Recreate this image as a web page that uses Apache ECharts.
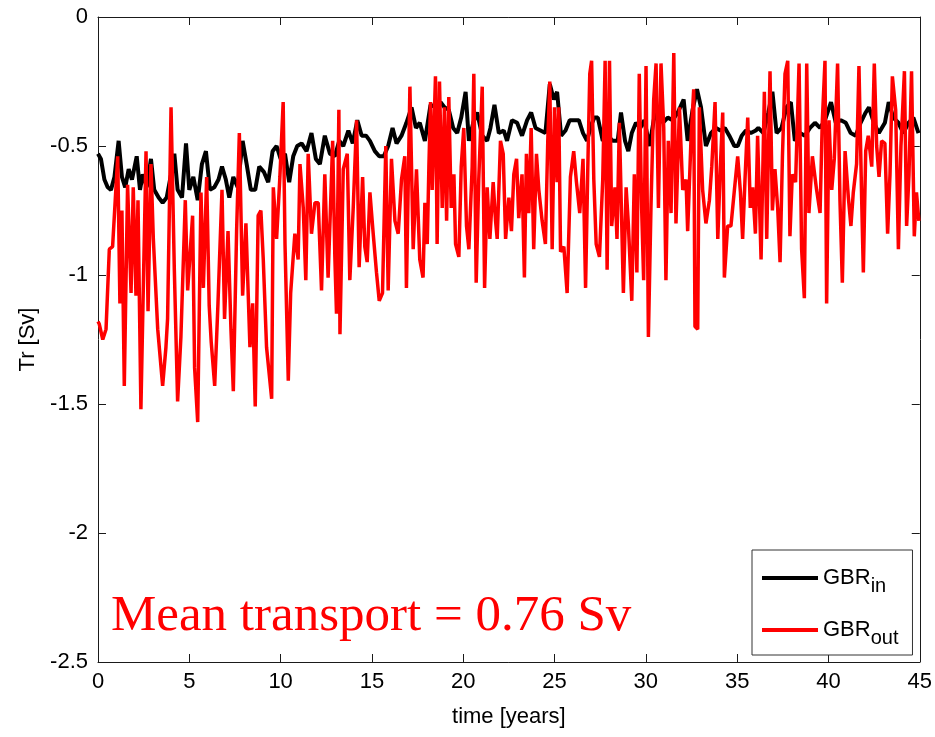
<!DOCTYPE html>
<html>
<head>
<meta charset="utf-8">
<script src="https://cdn.jsdelivr.net/npm/echarts@6/dist/echarts.min.js"></script>
<style>html,body{margin:0;padding:0;background:#fff}#c{width:935px;height:737px}</style>
</head>
<body>
<div id="c"></div>
<script>
// ---- data ----
var xTicks = [0, 5, 10, 15, 20, 25, 30, 35, 40, 45];
var yTicks = [-2.5, -2, -1.5, -1, -0.5, 0];
var seriesNames = ['GBR_in', 'GBR_out'];
var annotation = 'Mean transport = 0.76 Sv';

var gbrInTime = [0.0,0.16,0.35,0.53,0.71,0.90,1.13,1.31,1.49,1.68,1.86,2.12,2.30,2.45,2.67,2.90,3.08,3.32,3.54,3.76,4.00,4.18,4.36,4.60,4.82,5.00,5.22,5.46,5.69,5.91,6.13,6.37,6.60,6.79,7.00,7.19,7.41,7.65,7.92,8.14,8.37,8.61,8.83,9.08,9.32,9.56,9.78,10.00,10.24,10.47,10.69,10.91,11.15,11.42,11.69,11.93,12.15,12.42,12.70,12.97,13.21,13.43,13.71,13.95,14.20,14.44,14.68,14.89,15.16,15.40,15.65,15.89,16.13,16.35,16.62,16.89,17.17,17.41,17.62,17.90,18.21,18.48,18.76,18.97,19.21,19.45,19.67,19.89,20.13,20.31,20.55,20.76,21.04,21.31,21.49,21.71,21.95,22.22,22.40,22.67,22.95,23.22,23.50,23.72,23.96,24.23,24.50,24.74,24.96,25.14,25.36,25.60,25.83,26.09,26.33,26.56,26.78,27.00,27.18,27.37,27.64,27.91,28.19,28.46,28.64,28.86,29.04,29.23,29.46,29.70,29.92,30.20,30.43,30.69,30.93,31.20,31.47,31.75,32.07,32.29,32.56,32.80,33.02,33.29,33.57,33.84,34.08,34.33,34.57,34.85,35.03,35.25,35.48,35.75,36.02,36.16,36.44,36.71,36.93,37.16,37.43,37.70,37.94,38.16,38.44,38.71,38.99,39.26,39.54,39.81,40.14,40.40,40.68,40.95,41.22,41.49,41.76,42.04,42.22,42.49,42.76,43.09,43.30,43.55,43.83,44.10,44.38,44.65,44.93];
var gbrInValue = [-0.53,-0.55,-0.63,-0.66,-0.67,-0.62,-0.48,-0.62,-0.66,-0.59,-0.63,-0.54,-0.67,-0.61,-0.66,-0.55,-0.67,-0.70,-0.72,-0.70,-0.61,-0.53,-0.67,-0.70,-0.49,-0.67,-0.62,-0.71,-0.57,-0.52,-0.67,-0.66,-0.63,-0.58,-0.63,-0.70,-0.62,-0.66,-0.48,-0.57,-0.67,-0.67,-0.58,-0.60,-0.64,-0.52,-0.50,-0.55,-0.53,-0.64,-0.54,-0.50,-0.49,-0.52,-0.45,-0.55,-0.57,-0.46,-0.53,-0.54,-0.48,-0.50,-0.44,-0.49,-0.40,-0.46,-0.46,-0.48,-0.52,-0.54,-0.54,-0.50,-0.43,-0.49,-0.46,-0.41,-0.35,-0.43,-0.41,-0.48,-0.34,-0.35,-0.33,-0.35,-0.36,-0.43,-0.45,-0.39,-0.29,-0.48,-0.41,-0.37,-0.46,-0.48,-0.43,-0.34,-0.45,-0.44,-0.48,-0.40,-0.41,-0.46,-0.40,-0.37,-0.43,-0.44,-0.45,-0.26,-0.32,-0.29,-0.46,-0.44,-0.40,-0.40,-0.40,-0.45,-0.48,-0.42,-0.39,-0.39,-0.48,-0.46,-0.48,-0.48,-0.37,-0.48,-0.52,-0.45,-0.41,-0.43,-0.40,-0.50,-0.40,-0.35,-0.41,-0.39,-0.40,-0.37,-0.32,-0.48,-0.36,-0.28,-0.35,-0.50,-0.45,-0.43,-0.44,-0.43,-0.46,-0.50,-0.50,-0.46,-0.44,-0.45,-0.44,-0.43,-0.45,-0.37,-0.29,-0.45,-0.43,-0.35,-0.33,-0.48,-0.45,-0.46,-0.43,-0.41,-0.43,-0.40,-0.33,-0.41,-0.40,-0.41,-0.45,-0.46,-0.41,-0.37,-0.35,-0.41,-0.45,-0.41,-0.33,-0.39,-0.41,-0.45,-0.41,-0.39,-0.45];

var gbrOutTime = [0.0,0.07,0.26,0.44,0.62,0.80,1.08,1.20,1.31,1.44,1.62,1.81,1.93,2.08,2.19,2.35,2.63,2.74,2.90,3.03,3.27,3.54,3.72,3.81,4.00,4.18,4.36,4.54,4.78,4.91,5.18,5.29,5.46,5.64,5.77,5.95,6.09,6.20,6.39,6.57,6.79,6.93,7.12,7.28,7.41,7.59,7.74,7.92,8.10,8.32,8.47,8.61,8.77,8.92,9.05,9.23,9.51,9.60,9.78,9.96,10.14,10.24,10.42,10.55,10.78,10.96,11.06,11.24,11.38,11.51,11.69,11.88,12.06,12.24,12.42,12.60,12.74,12.85,12.97,13.06,13.19,13.25,13.43,13.65,13.79,13.97,14.16,14.30,14.49,14.61,14.74,14.89,15.07,15.25,15.40,15.58,15.76,15.89,16.07,16.26,16.44,16.62,16.80,16.89,17.08,17.26,17.44,17.62,17.80,17.90,18.03,18.12,18.21,18.30,18.48,18.57,18.70,18.85,18.97,19.09,19.21,19.34,19.49,19.58,19.76,19.89,20.03,20.18,20.31,20.49,20.58,20.71,20.85,21.04,21.17,21.31,21.46,21.64,21.77,21.86,22.04,22.19,22.32,22.50,22.64,22.77,22.92,23.04,23.22,23.35,23.46,23.59,23.72,23.86,24.01,24.14,24.32,24.50,24.63,24.74,24.87,25.00,25.14,25.23,25.33,25.51,25.69,25.87,26.05,26.20,26.38,26.56,26.70,26.82,26.93,27.03,27.15,27.28,27.46,27.64,27.77,27.88,28.01,28.13,28.31,28.42,28.55,28.64,28.77,28.92,29.04,29.23,29.37,29.51,29.64,29.77,29.88,30.01,30.14,30.28,30.43,30.56,30.69,30.83,30.98,31.10,31.23,31.38,31.53,31.65,31.84,32.02,32.20,32.29,32.47,32.62,32.69,32.84,32.93,33.11,33.29,33.48,33.61,33.79,33.94,34.08,34.21,34.30,34.48,34.66,34.85,35.03,35.18,35.30,35.43,35.58,35.72,35.85,36.00,36.12,36.31,36.49,36.62,36.80,36.93,37.07,37.22,37.35,37.48,37.62,37.77,37.89,38.02,38.20,38.39,38.53,38.68,38.81,38.93,39.12,39.35,39.54,39.66,39.81,39.90,40.03,40.18,40.32,40.50,40.63,40.76,40.91,41.09,41.23,41.36,41.54,41.67,41.82,41.91,42.04,42.18,42.37,42.51,42.64,42.77,42.91,43.09,43.24,43.37,43.50,43.68,43.83,43.97,44.16,44.28,44.41,44.55,44.70,44.82,44.95];
var gbrOutValue = [-1.18,-1.19,-1.25,-1.21,-0.90,-0.89,-0.54,-1.11,-0.75,-1.43,-0.65,-1.07,-0.66,-1.08,-0.71,-1.52,-0.52,-1.14,-0.57,-0.86,-1.21,-1.43,-1.28,-1.17,-0.35,-0.98,-1.49,-1.24,-0.71,-1.06,-0.77,-1.36,-1.57,-0.68,-1.05,-0.62,-1.12,-1.26,-1.43,-1.11,-0.67,-1.17,-0.83,-1.21,-1.45,-0.83,-0.45,-1.08,-0.80,-1.28,-1.11,-1.51,-0.77,-0.75,-0.94,-1.28,-1.48,-0.66,-0.86,-0.62,-0.33,-0.88,-1.41,-1.07,-0.84,-0.94,-0.57,-0.74,-1.02,-0.53,-0.84,-0.72,-0.72,-1.06,-0.61,-1.01,-0.72,-0.48,-0.93,-1.15,-0.36,-1.23,-0.59,-0.53,-1.02,-0.75,-0.40,-0.97,-0.62,-0.89,-0.95,-0.68,-0.84,-0.99,-1.10,-1.07,-0.50,-1.06,-0.55,-0.79,-0.84,-0.63,-0.54,-1.05,-0.27,-0.90,-0.59,-0.94,-1.01,-0.72,-0.88,-0.58,-0.33,-0.67,-0.23,-0.88,-0.25,-0.74,-0.35,-0.79,-0.31,-0.74,-0.61,-0.88,-0.93,-0.58,-0.43,-0.81,-0.90,-0.58,-0.22,-1.03,-0.63,-0.27,-1.05,-0.66,-0.86,-0.64,-0.79,-0.86,-0.48,-0.53,-0.86,-0.70,-0.83,-0.61,-0.55,-0.78,-0.61,-1.01,-0.53,-0.76,-0.43,-0.90,-0.53,-0.67,-0.79,-0.88,-0.48,-0.25,-0.90,-0.35,-0.64,-0.35,-0.91,-0.89,-1.07,-0.62,-0.52,-0.64,-0.76,-0.55,-1.05,-0.59,-0.22,-0.17,-0.63,-0.88,-0.93,-0.63,-0.17,-0.98,-0.17,-0.81,-0.66,-0.86,-0.41,-0.68,-1.07,-0.66,-0.80,-1.10,-0.61,-0.99,-0.22,-0.74,-1.02,-0.19,-1.24,-0.74,-0.32,-0.18,-0.74,-0.18,-0.43,-1.02,-0.48,-0.76,-0.14,-0.80,-0.35,-0.67,-0.63,-0.83,-0.48,-0.28,-1.20,-1.21,-0.35,-0.67,-0.80,-0.71,-0.58,-0.33,-0.86,-0.58,-0.37,-1.01,-0.81,-0.81,-0.67,-0.54,-0.68,-0.86,-0.63,-0.39,-0.74,-0.66,-0.84,-0.46,-0.94,-0.29,-0.86,-0.21,-0.75,-0.59,-0.74,-0.95,-0.54,-0.22,-0.17,-0.85,-0.61,-0.64,-0.18,-0.90,-1.09,-0.18,-0.76,-0.54,-0.67,-0.76,-0.41,-0.17,-1.11,-0.40,-0.67,-0.55,-0.18,-0.71,-1.03,-0.52,-0.70,-0.81,-0.68,-0.57,-0.19,-0.71,-0.99,-0.52,-0.46,-0.58,-0.18,-0.50,-0.62,-0.48,-0.49,-0.84,-0.61,-0.23,-0.36,-0.90,-0.50,-0.21,-0.81,-0.61,-0.21,-0.85,-0.68,-0.79];

function zip(t, v) { return t.map(function (x, i) { return [x, v[i]]; }); }

var AX = '#1a1a1a';
var FONT = '"Liberation Sans", Arial, Helvetica, sans-serif';

function axisCommon(extra) {
  var base = {
    type: 'value',
    axisLine: { show: true, onZero: false, lineStyle: { color: AX, width: 1 } },
    axisTick: { show: true, inside: true, length: 8, lineStyle: { color: AX } },
    splitLine: { show: false }
  };
  for (var k in extra) base[k] = extra[k];
  return base;
}

var chart = echarts.init(document.getElementById('c'), null, { renderer: 'canvas' });
var option = {
  animation: false,
  backgroundColor: '#fff',
  grid: { left: 98, right: 15, top: 17, bottom: 75, containLabel: false },
  xAxis: [
    axisCommon({
      position: 'bottom', min: xTicks[0], max: xTicks[xTicks.length - 1], interval: 5,
      name: 'time [years]', nameLocation: 'middle', nameGap: 44,
      nameTextStyle: { fontSize: 22, color: '#000', fontFamily: FONT },
      axisLabel: { fontSize: 22, color: '#000', fontFamily: FONT, margin: 9 }
    }),
    axisCommon({
      position: 'top', min: xTicks[0], max: xTicks[xTicks.length - 1], interval: 5,
      axisLabel: { show: false }
    })
  ],
  yAxis: [
    axisCommon({
      position: 'left', min: yTicks[0], max: yTicks[yTicks.length - 1], interval: 0.5,
      name: 'Tr [Sv]', nameLocation: 'middle', nameGap: 57, nameRotate: 90,
      nameTextStyle: { fontSize: 22, color: '#000', fontFamily: FONT },
      axisLabel: { fontSize: 22, color: '#000', fontFamily: FONT, margin: 10 }
    }),
    axisCommon({
      position: 'right', min: yTicks[0], max: yTicks[yTicks.length - 1], interval: 0.5,
      axisLabel: { show: false }
    })
  ],
  legend: {
    orient: 'vertical', left: 752, top: 550,
    padding: [10, 14, 7, 10], itemGap: 16,
    backgroundColor: '#fff', borderColor: '#333', borderWidth: 1,
    itemWidth: 56, itemHeight: 4, icon: 'rect',
    data: seriesNames.map(function (n) { return { name: n, icon: 'rect' }; }),
    formatter: function (name) {
      return name === 'GBR_in' ? '{m|GBR}{s|in}' : '{m|GBR}{s|out}';
    },
    textStyle: {
      color: '#000', fontFamily: FONT,
      rich: {
        m: { fontSize: 22, fontFamily: FONT, color: '#000', lineHeight: 26, verticalAlign: 'middle' },
        s: { fontSize: 20, fontFamily: FONT, color: '#000', lineHeight: 26, padding: [16, 0, 0, 0] }
      }
    }
  },
  graphic: [{
    type: 'text', left: 111, top: 591, silent: true,
    style: { text: annotation, fill: '#ff0000', font: 'normal 51px "Liberation Serif", "Times New Roman", serif' }
  }],
  series: [{
    name: seriesNames[0], type: 'line', data: zip(gbrInTime, gbrInValue),
    showSymbol: false, symbol: 'none', color: '#000',
    lineStyle: { color: '#000', width: 4 }, z: 2
  }, {
    name: seriesNames[1], type: 'line', data: zip(gbrOutTime, gbrOutValue),
    showSymbol: false, symbol: 'none', color: '#ff0000',
    lineStyle: { color: '#ff0000', width: 3.5 }, z: 3
  }]
};
chart.setOption(option);
</script>
</body>
</html>
